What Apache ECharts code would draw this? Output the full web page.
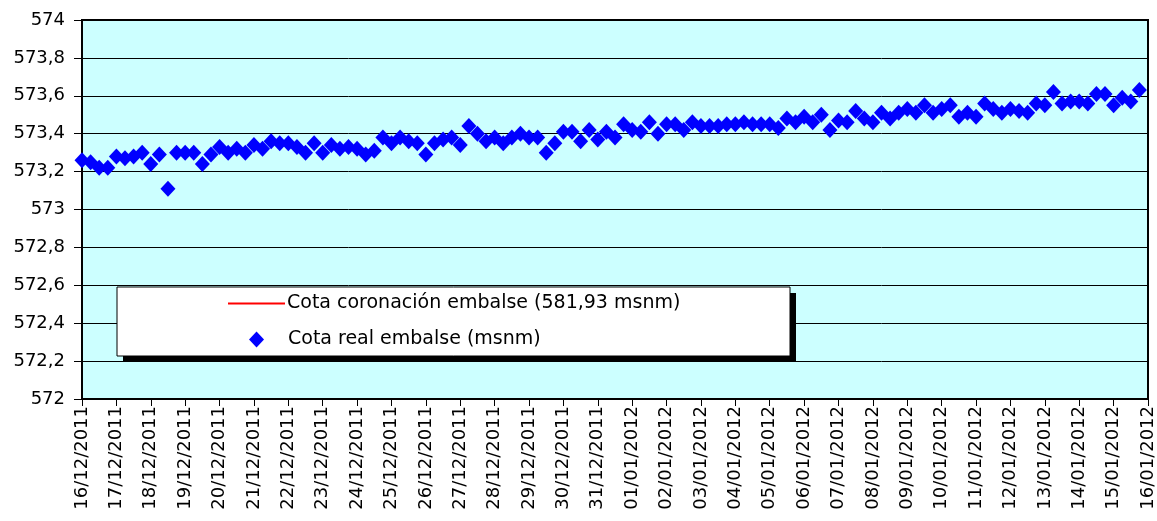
<!DOCTYPE html>
<html>
<head>
<meta charset="utf-8">
<script src="https://cdn.jsdelivr.net/npm/echarts@6/dist/echarts.min.js"></script>
<style>
  html, body { margin: 0; padding: 0; background: #ffffff; }
  #chart { width: 1157px; height: 521px; }
</style>
</head>
<body>
<div id="chart"></div>
<script>
// Tick labels of the date axis (one per day)
const dateLabels = [
  '16/12/2011','17/12/2011','18/12/2011','19/12/2011','20/12/2011','21/12/2011','22/12/2011','23/12/2011',
  '24/12/2011','25/12/2011','26/12/2011','27/12/2011','28/12/2011','29/12/2011','30/12/2011','31/12/2011',
  '01/01/2012','02/01/2012','03/01/2012','04/01/2012','05/01/2012','06/01/2012','07/01/2012','08/01/2012',
  '09/01/2012','10/01/2012','11/01/2012','12/01/2012','13/01/2012','14/01/2012','15/01/2012','16/01/2012'
];
// Readings every 6 hours (4 per day) starting 16/12/2011 00:00
const readingsPerDay = 4;
// Cota real embalse (msnm)
const cotaReal = [
  573.26, 573.25, 573.22, 573.22, 573.28, 573.27, 573.28, 573.30, 573.24, 573.29, 573.11, 573.30, 573.30, 573.30, 573.24, 573.29, 573.33, 573.30, 573.32, 573.30, 573.34,
  573.32, 573.36, 573.35, 573.35, 573.33, 573.30, 573.35, 573.30, 573.34, 573.32, 573.33, 573.32, 573.29, 573.31, 573.38, 573.35, 573.38, 573.36, 573.35, 573.29, 573.35,
  573.37, 573.38, 573.34, 573.44, 573.40, 573.36, 573.38, 573.35, 573.38, 573.40, 573.38, 573.38, 573.30, 573.35, 573.41, 573.41, 573.36, 573.42, 573.37, 573.41, 573.38,
  573.45, 573.42, 573.41, 573.46, 573.40, 573.45, 573.45, 573.42, 573.46, 573.44, 573.44, 573.44, 573.45, 573.45, 573.46, 573.45, 573.45, 573.45, 573.43, 573.48,
  573.46, 573.49, 573.46, 573.50, 573.42, 573.47, 573.46, 573.52, 573.48, 573.46, 573.51, 573.48, 573.51, 573.53, 573.51, 573.55, 573.51, 573.53, 573.55, 573.49, 573.51,
  573.49, 573.56, 573.53, 573.51, 573.53, 573.52, 573.51, 573.56, 573.55, 573.62, 573.56, 573.57, 573.57, 573.56, 573.61, 573.61, 573.55, 573.59, 573.57, 573.63
];
// Cota coronación embalse (msnm) - constant, above the visible range
const cotaCoronacion = 581.93;
const seriesNames = ['Cota coronación embalse (581,93 msnm)', 'Cota real embalse (msnm)'];
const yMin = 572, yMax = 574, yStep = 0.2;

const realData = cotaReal.map((v, i) => [i / readingsPerDay, v]);
const coronData = [[0, cotaCoronacion], [dateLabels.length - 1, cotaCoronacion]];

const FONT = 'DejaVu Sans';
const legendText = { color: '#000', fontFamily: FONT, fontSize: 19 };
const chart = echarts.init(document.getElementById('chart'), null, { renderer: 'canvas' });
chart.setOption({
  animation: false,
  backgroundColor: '#ffffff',
  textStyle: { fontFamily: FONT },
  grid: {
    left: 82, right: 9, top: 20, bottom: 122,
    show: true, backgroundColor: '#CCFFFF', borderColor: '#000', borderWidth: 2
  },
  xAxis: {
    type: 'value', min: 0, max: dateLabels.length - 1, interval: 1,
    axisLine: { show: true, onZero: false, lineStyle: { color: '#000', width: 2 } },
    axisTick: { show: true, inside: false, length: 7, lineStyle: { color: '#000', width: 1 } },
    splitLine: { show: false },
    axisLabel: {
      rotate: 90, margin: 7, color: '#000', fontFamily: FONT, fontSize: 18,
      formatter: v => dateLabels[Math.round(v)] || ''
    }
  },
  yAxis: {
    type: 'value', min: yMin, max: yMax, interval: yStep,
    axisLine: { show: true, lineStyle: { color: '#000', width: 2 } },
    axisTick: { show: true, inside: false, length: 8, lineStyle: { color: '#000', width: 1 } },
    splitLine: { show: true, lineStyle: { color: '#000', width: 1 } },
    axisLabel: {
      margin: 17, color: '#000', fontFamily: FONT, fontSize: 18,
      formatter: v => { let s = (+v).toFixed(1); if (s.endsWith('.0')) s = s.slice(0, -2); return s.replace('.', ','); }
    }
  },
  graphic: [
    { type: 'rect', z: 3, shape: { x: 123, y: 293, width: 673, height: 69 }, style: { fill: '#000' } },
    { type: 'rect', z: 3, shape: { x: 117, y: 287, width: 673, height: 69 }, style: { fill: '#fff', stroke: '#000', lineWidth: 1 } }
  ],
  legend: [
    {
      orient: 'vertical', left: 228, top: 294, padding: 0, z: 5,
      itemWidth: 57, itemHeight: 2, icon: 'rect', itemGap: 0,
      textStyle: Object.assign({ padding: [0, 0, 0, -3] }, legendText),
      itemStyle: { color: '#FF0000', borderWidth: 0 },
      data: [{ name: seriesNames[0], icon: 'rect', itemStyle: { color: '#FF0000' } }]
    },
    {
      orient: 'vertical', left: 249, top: 330, padding: 0, z: 5,
      itemWidth: 15, itemHeight: 16, itemGap: 0,
      textStyle: Object.assign({ padding: [0, 0, 0, 19] }, legendText),
      data: [{ name: seriesNames[1], icon: 'diamond', itemStyle: { color: '#0000FF', opacity: 1 } }]
    }
  ],
  series: [
    {
      name: seriesNames[0], type: 'line', data: coronData,
      symbol: 'none', showSymbol: false, clip: true,
      lineStyle: { color: '#FF0000', width: 2 }, itemStyle: { color: '#FF0000' }
    },
    {
      name: seriesNames[1], type: 'scatter', data: realData,
      symbol: 'diamond', symbolSize: [15, 16], clip: false,
      itemStyle: { color: '#0000FF', opacity: 1 }
    }
  ]
});
</script>
</body>
</html>
